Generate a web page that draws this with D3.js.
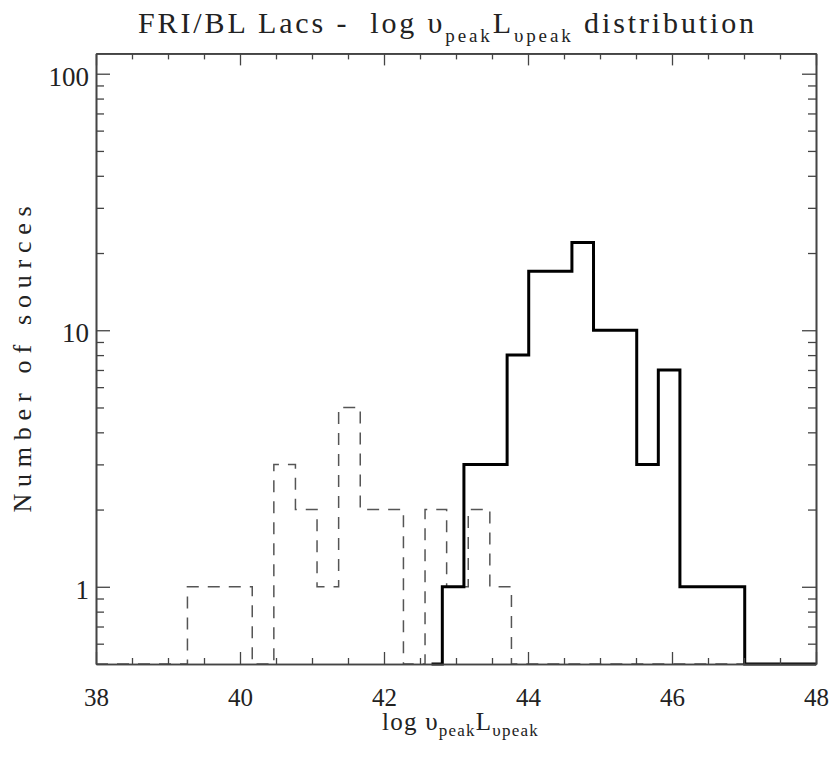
<!DOCTYPE html>
<html>
<head>
<meta charset="utf-8">
<script src="https://cdn.jsdelivr.net/npm/d3@7/dist/d3.min.js"></script>
<style>
  html, body { margin: 0; padding: 0; background: #fff; }
  svg { display: block; }
  text { font-family: "Liberation Serif", "DejaVu Serif", serif; fill: #222; }
</style>
</head>
<body>
<svg id="chart" width="831" height="757"></svg>
<script>
// ---- data -------------------------------------------------------------
const binWidth = 0.3;

// FRI radio galaxies (dashed histogram): left edge of each bin and counts
const friLeft   = [39.27, 39.57, 39.87, 40.17, 40.47, 40.77, 41.07, 41.37, 41.67, 41.97, 42.27, 42.57, 42.87, 43.17, 43.47];
const friCounts = [1, 1, 1, 0, 3, 2, 1, 5, 2, 2, 0, 2, 1, 2, 1];
const friSpan   = [38, 48];      // extent over which the empty bins run along the floor

// BL Lacs (solid histogram)
const blLeft    = [42.81, 43.11, 43.41, 43.71, 44.01, 44.31, 44.61, 44.91, 45.21, 45.51, 45.81, 46.11, 46.41, 46.71];
const blCounts  = [1, 3, 3, 8, 17, 17, 22, 10, 10, 3, 7, 1, 1, 1];
const blSpan    = [42.66, 48];

const xMajor = [38, 40, 42, 44, 46, 48];
const xMinor = [38.5, 39, 39.5, 40.5, 41, 41.5, 42.5, 43, 43.5, 44.5, 45, 45.5, 46.5, 47, 47.5];
const yMajor = [1, 10, 100];
const yMinor = [0.6, 0.7, 0.8, 0.9, 2, 3, 4, 5, 6, 7, 8, 9, 20, 30, 40, 50, 60, 70, 80, 90];
const xDomain = [38, 48];
const yDomain = [0.5, 120];

// ---- layout -----------------------------------------------------------
const svg = d3.select("#chart");
const plot = { left: 96, right: 816, top: 53.4, bottom: 664 };

const x = d3.scaleLinear().domain(xDomain).range([plot.left, plot.right]);
const y = d3.scaleLog().domain(yDomain).range([plot.bottom, plot.top]);

svg.append("defs").append("clipPath").attr("id", "plotClip")
  .append("rect")
  .attr("x", plot.left).attr("y", plot.top - 2)
  .attr("width", plot.right - plot.left).attr("height", plot.bottom - plot.top + 4);

// step outline of a histogram; empty bins sit on the lower axis limit
function histPoints(left, counts, span) {
  const floor = yDomain[0];
  const v = c => Math.max(c, floor);
  const pts = [[span[0], floor]];
  let prev = floor;
  left.forEach((l, i) => {
    pts.push([l, prev]);
    pts.push([l, v(counts[i])]);
    pts.push([l + binWidth, v(counts[i])]);
    prev = v(counts[i]);
  });
  const last = left[left.length - 1] + binWidth;
  pts.push([last, floor]);
  pts.push([span[1], floor]);
  return pts;
}
const line = d3.line().x(d => x(d[0])).y(d => y(d[1]));

const marks = svg.append("g").attr("clip-path", "url(#plotClip)");
marks.append("path")
  .attr("d", line(histPoints(friLeft, friCounts, friSpan)))
  .attr("fill", "none").attr("stroke", "#555").attr("stroke-width", 1.5)
  .attr("stroke-dasharray", "12,9");
marks.append("path")
  .attr("d", line(histPoints(blLeft, blCounts, blSpan)))
  .attr("fill", "none").attr("stroke", "#000").attr("stroke-width", 3)
  .attr("stroke-linejoin", "miter");

// ---- axes -------------------------------------------------------------
const axisColor = "#444";
function styleAxis(g) {
  g.selectAll("path.domain").attr("stroke", axisColor).attr("stroke-width", 1.6);
  g.selectAll(".tick line").attr("stroke", axisColor).attr("stroke-width", 1.3);
}

// bottom
svg.append("g").attr("transform", `translate(0,${plot.bottom})`)
  .call(d3.axisBottom(x).tickValues(xMinor).tickSize(-6).tickSizeOuter(0).tickFormat(""))
  .call(styleAxis);
const xb = svg.append("g").attr("transform", `translate(0,${plot.bottom})`)
  .call(d3.axisBottom(x).tickValues(xMajor).tickSize(-12).tickSizeOuter(0).tickPadding(24).tickFormat(d3.format("d")))
  .call(styleAxis);
xb.selectAll(".tick text").attr("font-size", 25).attr("font-family", "Liberation Serif").attr("fill", "#222");

// top
svg.append("g").attr("transform", `translate(0,${plot.top})`)
  .call(d3.axisTop(x).tickValues(xMinor).tickSize(-6).tickSizeOuter(0).tickFormat(""))
  .call(styleAxis);
svg.append("g").attr("transform", `translate(0,${plot.top})`)
  .call(d3.axisTop(x).tickValues(xMajor).tickSize(-12).tickSizeOuter(0).tickFormat(""))
  .call(styleAxis);

// left
svg.append("g").attr("transform", `translate(${plot.left},0)`)
  .call(d3.axisLeft(y).tickValues(yMinor).tickSize(-8).tickSizeOuter(0).tickFormat(""))
  .call(styleAxis);
const yl = svg.append("g").attr("transform", `translate(${plot.left},0)`)
  .call(d3.axisLeft(y).tickValues(yMajor).tickSize(-14).tickSizeOuter(0).tickPadding(7).tickFormat(d3.format("d")))
  .call(styleAxis);
yl.selectAll(".tick text").attr("font-size", 27).attr("font-family", "Liberation Sans")
  .attr("font-weight", 300).attr("fill", "#222").attr("dy", "0.42em");

// right
svg.append("g").attr("transform", `translate(${plot.right},0)`)
  .call(d3.axisRight(y).tickValues(yMinor).tickSize(-8).tickSizeOuter(0).tickFormat(""))
  .call(styleAxis);
svg.append("g").attr("transform", `translate(${plot.right},0)`)
  .call(d3.axisRight(y).tickValues(yMajor).tickSize(-14).tickSizeOuter(0).tickFormat(""))
  .call(styleAxis);

// ---- labels with subscripts -------------------------------------------
// parts: [text, isSubscript]; letters are spread so the run spans [x0, x1]
function richLabel(parts, x0, x1, baseY, size, subSize, shift) {
  const t = svg.append("text").attr("x", x0).attr("y", baseY).style("white-space", "pre");
  let down = false;
  parts.forEach(([s, sub]) => {
    const ts = t.append("tspan").text(s).attr("font-size", sub ? subSize : size);
    if (sub && !down) { ts.attr("dy", shift); down = true; }
    else if (!sub && down) { ts.attr("dy", -shift); down = false; }
  });
  const w = t.node().getComputedTextLength();
  const n = parts.reduce((a, p) => a + p[0].length, 0);
  t.attr("letter-spacing", (x1 - x0 - w) / n);
  return t;
}

const titleParts = [["FRI/BL Lacs -  log υ", false], ["peak", true], ["L", false], ["υpeak", true], [" distribution", false]];
richLabel(titleParts, 138, 757, 33, 30, 19, 9);

const xLabelParts = [["log υ", false], ["peak", true], ["L", false], ["υpeak", true]];
richLabel(xLabelParts, 382, 539, 730, 25, 17, 6);

// y axis title, spread out along the axis
const yTitle = svg.append("text")
  .attr("transform", "translate(31,356) rotate(-90)")
  .attr("text-anchor", "middle")
  .attr("font-size", 26)
  .text("Number of sources");
const yNat = yTitle.node().getComputedTextLength();
const yChars = "Number of sources".length;
yTitle.attr("letter-spacing", (313 - yNat) / yChars);
</script>
</body>
</html>
